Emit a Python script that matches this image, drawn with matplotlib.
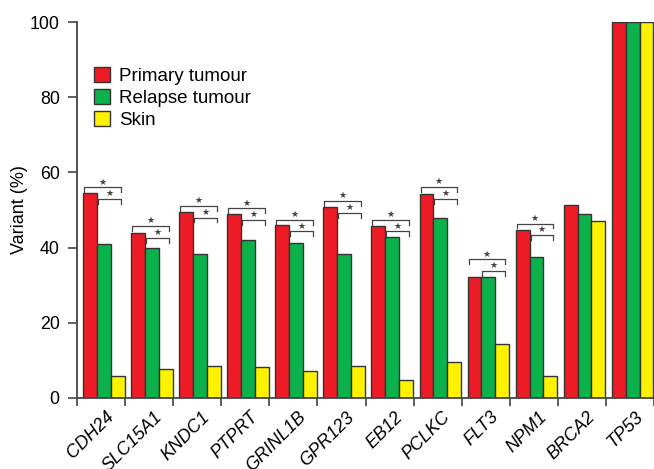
import matplotlib.pyplot as plt
from matplotlib.patches import Patch

genes = ["CDH24", "SLC15A1", "KNDC1", "PTPRT", "GRINL1B", "GPR123",
         "EB12", "PCLKC", "FLT3", "NPM1", "BRCA2", "TP53"]
primary = [54.5, 44.0, 49.5, 48.9, 45.9, 50.7, 45.8, 54.2, 32.1, 44.7, 51.3, 100]
relapse = [40.9, 39.9, 38.2, 42.0, 41.2, 38.2, 42.7, 47.9, 32.1, 37.6, 49.0, 100]
skin = [5.9, 7.7, 8.4, 8.3, 7.2, 8.4, 4.7, 9.7, 14.3, 5.9, 47.2, 100]
# height of the upper significance bracket (None = no bracket)
sig_top = [56.0, 45.7, 51.1, 50.4, 47.4, 52.4, 47.4, 56.1, 36.9, 46.4, None, None]

plt.rcParams['font.family'] = ['Liberation Sans', 'DejaVu Sans']

red = "#ED1C24"
green = "#0BB14B"
yellow = "#FFF200"
edge = "#333333"

fig = plt.figure(figsize=(6.54, 4.69), dpi=100)
ax = fig.add_axes([77 / 654, 1 - 398 / 469, 1 - 77 / 654, 376 / 469])

w = 0.288
x = list(range(len(genes)))
offs = [-0.232, -0.232 + w, -0.232 + 2 * w]
for vals, col, off in zip([primary, relapse, skin], [red, green, yellow], offs):
    ax.bar([i + off for i in x], vals, width=w, color=col,
           edgecolor=edge, linewidth=1.0)

# significance brackets
tick = 1.3
gap = 3.1
for i, top in enumerate(sig_top):
    if top is None:
        continue
    right = i + 0.405
    for left, y in [(i - 0.356, top), (i - 0.068, top - gap)]:
        ax.plot([left, left, right, right], [y - tick, y, y, y - tick],
                color="#444444", lw=0.9, clip_on=False)
        ax.text((left + right) / 2, y + 0.2, "★", ha="center", va="bottom",
                fontsize=6.5, color="#444444", family="DejaVu Sans")

ax.set_xlim(-0.5, 11.385)
ax.set_ylim(0, 100)
ax.set_yticks([0, 20, 40, 60, 80, 100])
ax.tick_params(axis="y", labelsize=12.8, length=6.5, width=1.2,
               color="#444444", pad=6)
ax.set_xticks([i - 0.5 for i in range(len(genes) + 1)])
ax.set_xticklabels([])
ax.tick_params(axis="x", length=6, width=1.2, color="#444444")
for i, g in enumerate(genes):
    ax.text(i + 0.09, -2.8, g, rotation=45, ha="right", va="top",
            rotation_mode="anchor", fontsize=13, style="italic",
            clip_on=False)

for s in ["top", "right"]:
    ax.spines[s].set_visible(False)
for s in ["left", "bottom"]:
    ax.spines[s].set_linewidth(1.3)
    ax.spines[s].set_color("#444444")

ax.set_ylabel("Variant (%)", fontsize=13, labelpad=1)

handles = [Patch(facecolor=c, edgecolor=edge, linewidth=1.0) for c in [red, green, yellow]]
ax.legend(handles, ["Primary tumour", "Relapse tumour", "Skin"],
          loc="upper left", bbox_to_anchor=(0.016, 0.90), frameon=False,
          fontsize=13.5, handlelength=0.85, handleheight=0.85,
          handletextpad=0.5, labelspacing=0.22, borderaxespad=0)

fig.savefig("out.png", dpi=100)
